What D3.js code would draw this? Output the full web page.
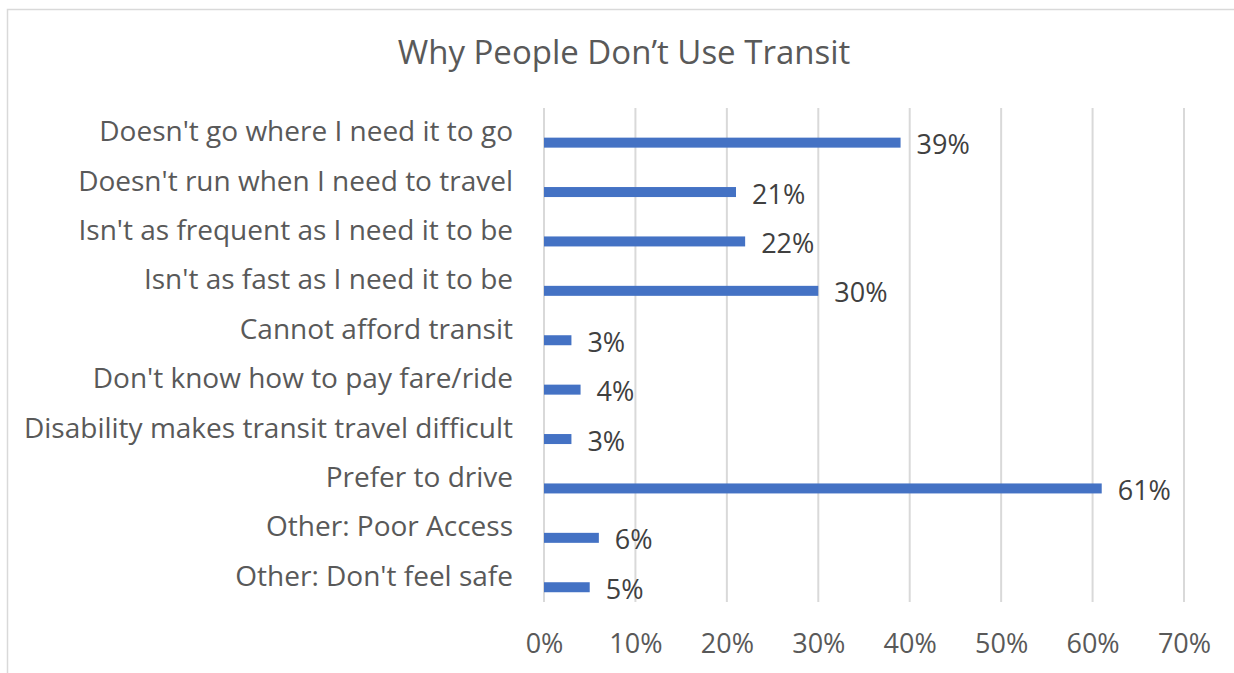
<!DOCTYPE html>
<html>
<head>
<meta charset="utf-8">
<script src="https://cdn.jsdelivr.net/npm/d3@7"></script>
<style>
  html, body { margin: 0; padding: 0; background: #fff; }
  svg { display: block; }
  text { font-family: "Open Sans", "Noto Sans", sans-serif; }
</style>
</head>
<body>
<svg id="chart" width="1234" height="673"></svg>
<script>
// Survey responses: reasons for not using transit (share of respondents)
const categories = [
  "Doesn't go where I need it to go",
  "Doesn't run when I need to travel",
  "Isn't as frequent as I need it to be",
  "Isn't as fast as I need it to be",
  "Cannot afford transit",
  "Don't know how to pay fare/ride",
  "Disability makes transit travel difficult",
  "Prefer to drive",
  "Other: Poor Access",
  "Other: Don't feel safe"
];
const values = [0.39, 0.21, 0.22, 0.30, 0.03, 0.04, 0.03, 0.61, 0.06, 0.05];
const tickValues = [0, 0.1, 0.2, 0.3, 0.4, 0.5, 0.6, 0.7];
const title = "Why People Don\u2019t Use Transit";

const svg = d3.select("#chart");
const W = 1234, H = 673;
const plot = { left: 544, right: 1184, top: 108, bottom: 602 };
const fontFamily = "Open Sans, Noto Sans, sans-serif";

// Outer chart frame
svg.append("rect")
  .attr("x", 7.5).attr("y", 9.5)
  .attr("width", W + 20).attr("height", H + 20)
  .attr("fill", "#fff").attr("stroke", "#d9d9d9").attr("stroke-width", 1.5);

svg.append("text")
  .attr("x", 624).attr("y", 64)
  .attr("text-anchor", "middle")
  .attr("font-size", 33)
  .attr("fill", "#595959")
  .text(title);

const x = d3.scaleLinear().domain([0, 0.7]).range([plot.left, plot.right]);
const y = d3.scaleBand().domain(categories).range([plot.top, plot.bottom]);

// Vertical gridlines
svg.append("g")
  .selectAll("line")
  .data(tickValues)
  .join("line")
  .attr("x1", d => x(d)).attr("x2", d => x(d))
  .attr("y1", plot.top).attr("y2", plot.bottom)
  .attr("stroke", "#d9d9d9").attr("stroke-width", 2);

// X axis tick labels
const xAxis = d3.axisBottom(x)
  .tickValues(tickValues)
  .tickFormat(d3.format(".0%"))
  .tickSize(0)
  .tickPadding(0);
const gx = svg.append("g")
  .attr("transform", `translate(0,${plot.bottom})`)
  .call(xAxis);
gx.select(".domain").remove();
gx.selectAll("text")
  .attr("y", 51)
  .attr("dy", 0)
  .attr("font-size", 27)
  .attr("font-family", fontFamily)
  .attr("fill", "#595959");

// Category labels
const yAxis = d3.axisLeft(y).tickSize(0).tickPadding(0);
const gy = svg.append("g")
  .attr("transform", `translate(${plot.left - 31},0)`)
  .call(yAxis);
gy.select(".domain").remove();
gy.selectAll("text")
  .attr("font-size", 28)
  .attr("font-family", fontFamily)
  .attr("fill", "#595959")
  .attr("dy", "0.3em");

// Bars sit in the lower part of each band
const barH = 10;
const barOffset = y.bandwidth() * 0.6;
svg.append("g")
  .selectAll("rect")
  .data(values)
  .join("rect")
  .attr("x", x(0))
  .attr("y", (d, i) => y(categories[i]) + barOffset)
  .attr("width", d => x(d) - x(0))
  .attr("height", barH)
  .attr("fill", "#4472c4");

// Value labels
svg.append("g")
  .selectAll("text")
  .data(values)
  .join("text")
  .attr("x", d => x(d) + 16)
  .attr("y", (d, i) => y(categories[i]) + barOffset + barH / 2 + 11.5)
  .attr("font-size", 27)
  .attr("fill", "#404040")
  .text(d => d3.format(".0%")(d));
</script>
</body>
</html>
